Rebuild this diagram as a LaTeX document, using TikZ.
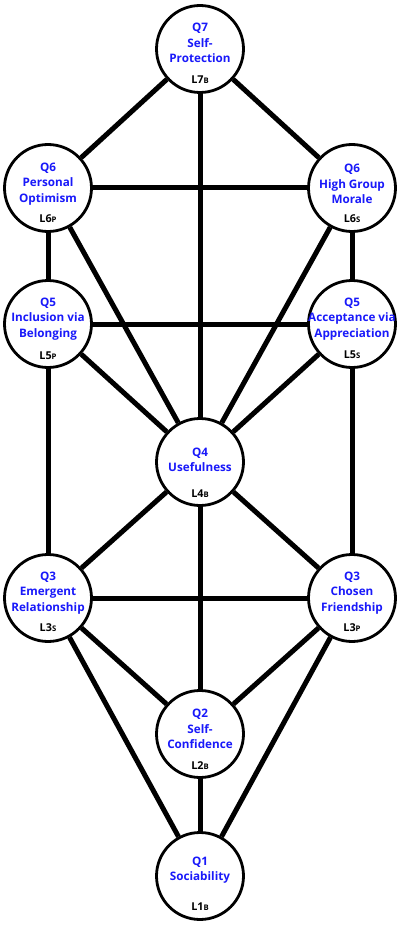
\documentclass[tikz,border=0pt]{standalone}
\usepackage{fontspec}
\setmainfont{Open Sans}
\usetikzlibrary{backgrounds,calc}
\definecolor{qblue}{RGB}{25,25,250}
\tikzset{
  ring/.style={circle,draw=black,line width=2.8pt,fill=white,minimum size=87pt,inner sep=0pt},
  qtext/.style={text=qblue,font=\bfseries\fontsize{11.7}{15.5}\selectfont,align=center,inner sep=0pt},
  ltext/.style={text=black,font=\bfseries\fontsize{10.8}{12}\selectfont,inner sep=0pt},
  link/.style={line width=5pt}
}
\newcommand{\lsub}[2]{L#1{\fontsize{7.7}{9}\selectfont #2}}
\begin{document}
\begin{tikzpicture}[x=1pt,y=-1pt]
\useasboundingbox (0,0) rectangle (400,925);
% circles
\node[ring] (q7) at (200,49) {};
\node[ring] (q6l) at (48,188) {};
\node[ring] (q6r) at (352,188) {};
\node[ring] (q5l) at (48,324) {};
\node[ring] (q5r) at (352,324) {};
\node[ring] (q4) at (200,462) {};
\node[ring] (q3l) at (48,598) {};
\node[ring] (q3r) at (352,598) {};
\node[ring] (q2) at (200,734) {};
\node[ring] (q1) at (200,876) {};
% connectors
\begin{pgfonlayer}{background}
\draw[link] (q7) -- (q6l);
\draw[link] (q7) -- (q6r);
\draw[link] (q7) -- (q4);
\draw[link] (q6l) -- (q6r);
\draw[link] (q6l) -- (q5l);
\draw[link] (q6r) -- (q5r);
\draw[link] (q6l) -- (q4);
\draw[link] (q6r) -- (q4);
\draw[link] (q5l) -- (q5r);
\draw[link] (q5l) -- (q4);
\draw[link] (q5r) -- (q4);
\draw[link] (q5l) -- (q3l);
\draw[link] (q5r) -- (q3r);
\draw[link] (q4) -- (q3l);
\draw[link] (q4) -- (q3r);
\draw[link] (q4) -- (q2);
\draw[link] (q3l) -- (q3r);
\draw[link] (q3l) -- (q2);
\draw[link] (q3r) -- (q2);
\draw[link] (q3l) -- (q1);
\draw[link] (q3r) -- (q1);
\draw[link] (q2) -- (q1);
\end{pgfonlayer}
% texts
\node[qtext] (t7) at ($(q7)+(0,-6)$) {Q7\\Self-\\Protection};
\node[ltext] (l7) at ($(q7)+(0,31)$) {\lsub{7}{B}};
\node[qtext] (t6l) at ($(q6l)+(0,-4)$) {Q6\\Personal\\Optimism};
\node[ltext] (l6l) at ($(q6l)+(0,31)$) {\lsub{6}{P}};
\node[qtext] (t6r) at ($(q6r)+(0,-4)$) {Q6\\High Group\\Morale};
\node[ltext] (l6r) at ($(q6r)+(0,31)$) {\lsub{6}{S}};
\node[qtext] (t5l) at ($(q5l)+(0,-5)$) {Q5\\Inclusion via\\Belonging};
\node[ltext] (l5l) at ($(q5l)+(0,32)$) {\lsub{5}{P}};
\node[qtext] (t5r) at ($(q5r)+(0,-5)$) {Q5\\Acceptance via\\Appreciation};
\node[ltext] (l5r) at ($(q5r)+(0,31)$) {\lsub{5}{S}};
\node[qtext] (t4) at ($(q4)+(0,-2)$) {Q4\\Usefulness};
\node[ltext] (l4) at ($(q4)+(0,32)$) {\lsub{4}{B}};
\node[qtext] (t3l) at ($(q3l)+(0,-5)$) {Q3\\Emergent\\Relationship};
\node[ltext] (l3l) at ($(q3l)+(0,30)$) {\lsub{3}{S}};
\node[qtext] (t3r) at ($(q3r)+(0,-5)$) {Q3\\Chosen\\Friendship};
\node[ltext] (l3r) at ($(q3r)+(0,30)$) {\lsub{3}{P}};
\node[qtext] (t2) at ($(q2)+(0,-5)$) {Q2\\Self-\\Confidence};
\node[ltext] (l2) at ($(q2)+(0,32)$) {\lsub{2}{B}};
\node[qtext] (t1) at ($(q1)+(0,-6)$) {Q1\\Sociability};
\node[ltext] (l1) at ($(q1)+(0,31)$) {\lsub{1}{B}};
\end{tikzpicture}
\end{document}
